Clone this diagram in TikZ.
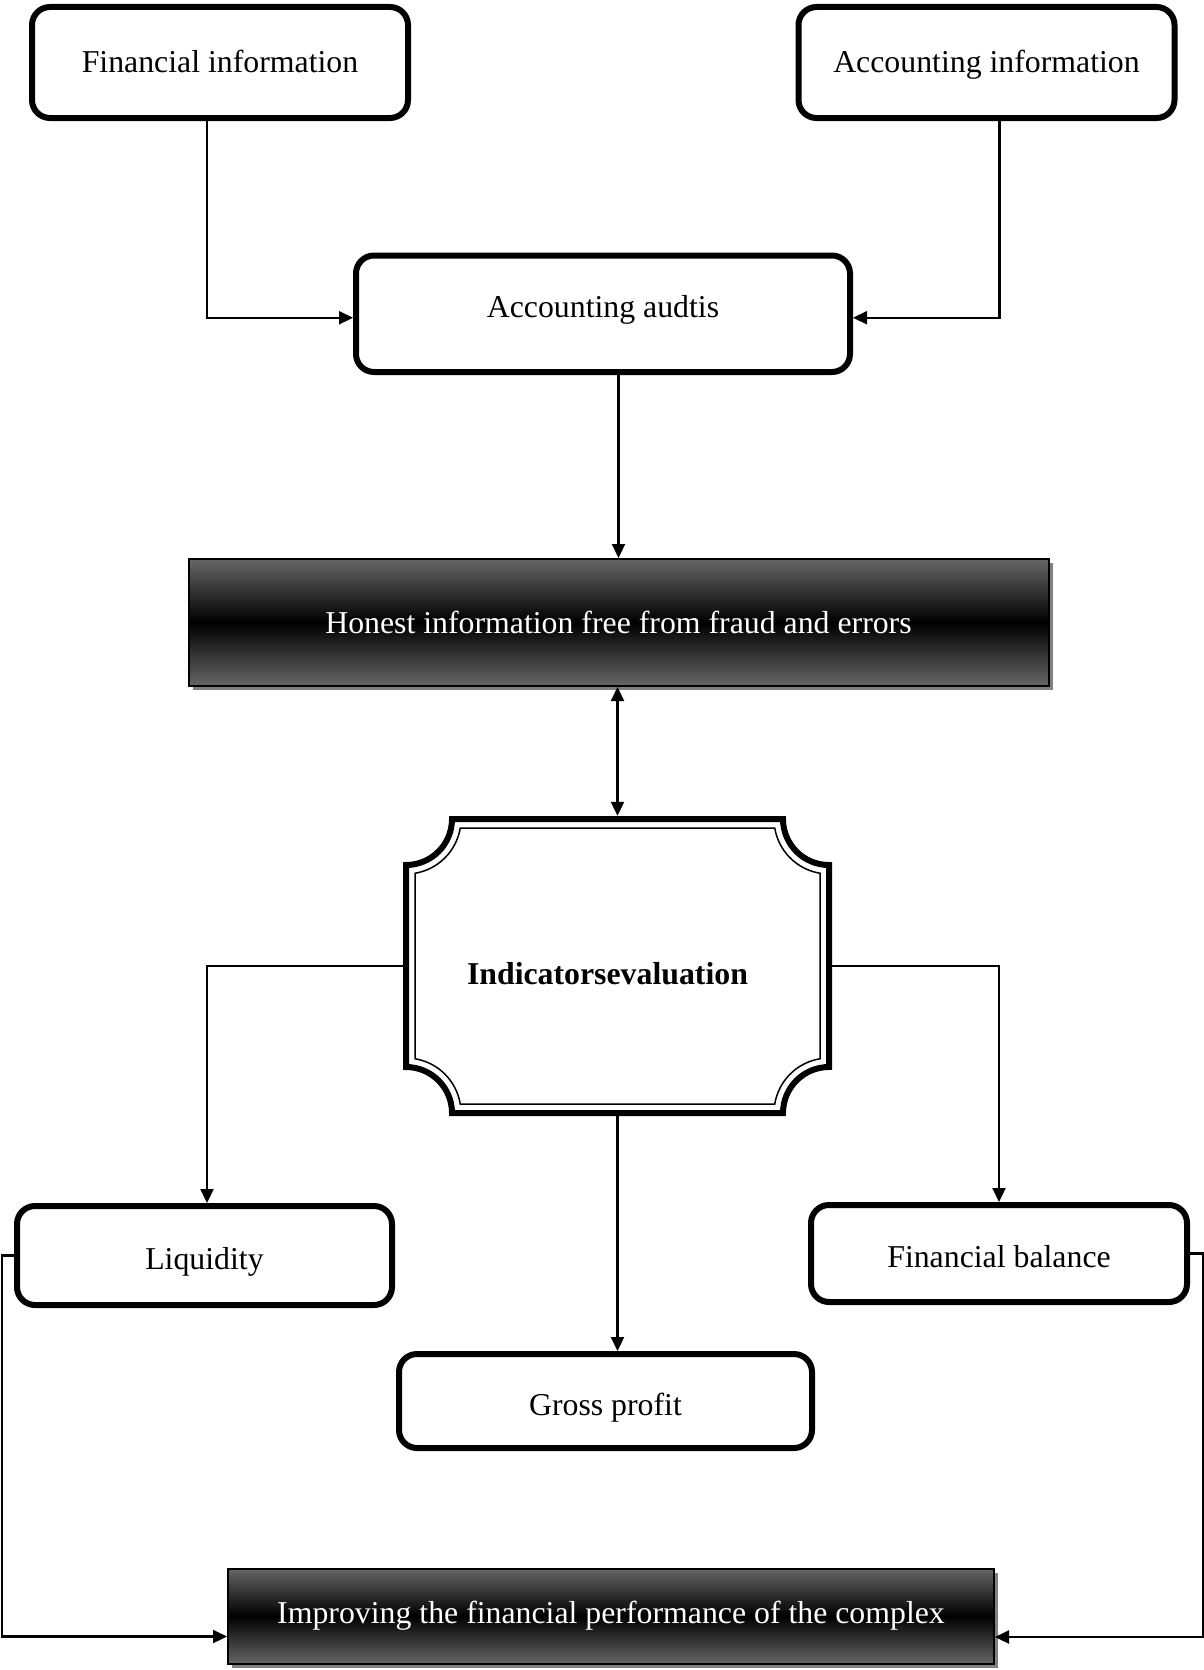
\documentclass[tikz,border=0pt]{standalone}
\usepackage{fontspec}
\setmainfont{Liberation Serif}
\usetikzlibrary{arrows.meta,shadows}
\begin{document}
\begin{tikzpicture}[x=1pt,y=-1pt,
  font=\fontsize{31.8pt}{38pt}\selectfont,
  softbox/.style={draw=black,line width=6pt,rounded corners=18pt,fill=white,inner sep=0pt,outer sep=3pt},
  darkbox/.style={draw=black,line width=2pt,inner sep=0pt,outer sep=1pt,text=white,
    top color=black!60,bottom color=black!60,middle color=black,
    drop shadow={shadow xshift=4pt,shadow yshift=-4pt,opacity=1,fill=black!50}},
  tip/.tip={Triangle[length=14pt,width=13pt]},
  link/.style={line width=2.2pt,-tip},
  twoway/.style={line width=2.2pt,tip-tip}]

\useasboundingbox[fill=white] (0,0) rectangle (1204,1670);

% top row
\node (fin) [softbox,minimum width=376pt,minimum height=111pt,text height=24pt,text depth=4pt] at (220,62.5) {Financial information};
\node (acc) [softbox,minimum width=376pt,minimum height=111pt,text height=24pt,text depth=4pt] at (986.5,62.5) {Accounting information};
\node (audit) [softbox,minimum width=494pt,minimum height=116.5pt,text height=22pt,text depth=15pt] at (603,313.75) {Accounting audtis};

% shaded result box
\node (honest) [darkbox,minimum width=860pt,minimum height=127pt] at (618.5,622.5) {Honest information free from fraud and errors};

% central framed label
\node (ind) [minimum width=429pt,minimum height=300pt,inner sep=0pt,text height=37pt,text depth=0pt,
  font=\fontsize{31.8pt}{38pt}\selectfont\bfseries] at (617.5,966) {Indicatorsevaluation\hspace*{20pt}};
\draw[line width=6pt] (452,819) -- (783,819) arc[start angle=180,end angle=90,radius=46]
  -- (829,1067) arc[start angle=270,end angle=180,radius=46]
  -- (452,1113) arc[start angle=0,end angle=-90,radius=46]
  -- (406,865) arc[start angle=90,end angle=0,radius=46] -- cycle;
\draw[line width=1.5pt] (460.26,828) -- (774.74,828) arc[start angle=170.58,end angle=99.42,radius=55]
  -- (820,1058.74) arc[start angle=260.58,end angle=189.42,radius=55]
  -- (460.26,1104) arc[start angle=-9.42,end angle=-80.58,radius=55]
  -- (415,873.26) arc[start angle=80.58,end angle=9.42,radius=55] -- cycle;

% indicators
\node (liq) [softbox,minimum width=375pt,minimum height=99pt,text height=29pt,text depth=1pt] at (204.5,1255.5) {Liquidity};
\node (bal) [softbox,minimum width=376pt,minimum height=97pt,text height=29pt,text depth=1pt] at (999,1253.5) {Financial balance};
\node (gross) [softbox,minimum width=413pt,minimum height=94pt,text height=29pt,text depth=1pt] at (605.5,1401) {Gross profit};

% final outcome
\node (imp) [darkbox,minimum width=766pt,minimum height=95pt] at (611,1616) {Improving the financial performance of the complex};

% side rails
\coordinate (leftrail) at (2,0);
\coordinate (rightrail) at (1203,0);

% connectors
\draw[link] ([xshift=-13pt]fin.south) |- ([yshift=-4pt]audit.west);
\draw[link] ([xshift=13pt]acc.south) |- ([yshift=-4pt]audit.east);
\draw[link] (honest.north |- audit.south) -- (honest.north);
\draw[twoway] (ind.north |- honest.south) -- (ind.north);
\draw[link] (ind.west) -| ([xshift=2.5pt]liq.north);
\draw[link] (ind.east) -| (bal.north);
\draw[link] (ind.south) -- (ind.south |- gross.north);
\draw[link] (liq.west) -- (liq.west -| leftrail) |- ([yshift=-20.5pt]imp.west);
\draw[link] (bal.east) -- (bal.east -| rightrail) |- ([yshift=-21pt]imp.east);
\end{tikzpicture}
\end{document}
